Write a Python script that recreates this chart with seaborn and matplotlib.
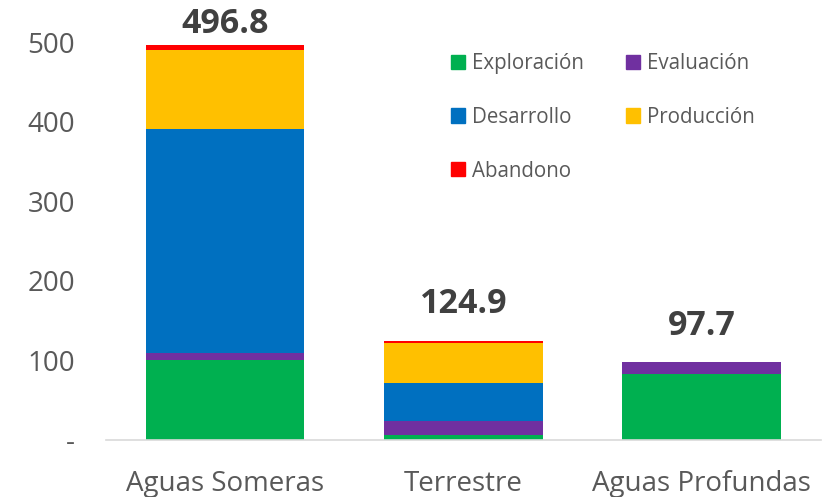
import numpy as np
import pandas as pd
import matplotlib
matplotlib.use("Agg")
import matplotlib.pyplot as plt
import seaborn as sns

# data
categories = ["Aguas Someras", "Terrestre", "Aguas Profundas"]
exploracion = [101.0, 6.0, 82.8]
evaluacion = [8.4, 17.9, 14.9]
desarrollo = [281.2, 47.7, 0.0]
produccion = [99.9, 49.9, 0.0]
abandono = [6.3, 3.4, 0.0]
totals = [496.8, 124.9, 97.7]

series = ["Exploración", "Evaluación", "Desarrollo", "Producción", "Abandono"]
colors = ["#00B050", "#7030A0", "#0070C0", "#FFC000", "#FF0000"]

sns.set_style("white")
plt.rcParams["font.family"] = ["Open Sans", "DejaVu Sans"]

df = pd.DataFrame({"categoria": categories,
                   "Exploración": exploracion, "Evaluación": evaluacion,
                   "Desarrollo": desarrollo, "Producción": produccion,
                   "Abandono": abandono})

# cumulative heights so each layer can be drawn over the one above
cum = df[series].cumsum(axis=1)

fig, ax = plt.subplots(figsize=(8.25, 4.97), dpi=100)
fig.subplots_adjust(left=0.128, right=0.995, top=0.96, bottom=0.115)

handles = {}
for name, col in reversed(list(zip(series, colors))):
    sns.barplot(x=df["categoria"], y=cum[name], color=col, width=0.665,
                ax=ax, linewidth=0, saturation=1)
    handles[name] = plt.Rectangle((0, 0), 1, 1, color=col)

# total labels (first one sits closer, it runs into the top of the chart)
label_pad = [8.5, 19.5, 19.5]
for i, t in enumerate(totals):
    ax.annotate(f"{t:.1f}", (i, t), xytext=(0, label_pad[i]),
                textcoords="offset points", ha="center", va="baseline",
                fontsize=24.5, fontweight="bold", color="#404040",
                annotation_clip=False)

ax.set_ylim(0, 528)
ax.set_yticks([0, 100, 200, 300, 400, 500])
ax.set_yticklabels(["-", "100", "200", "300", "400", "500"])
ax.set_xlabel("")
ax.set_ylabel("")
ax.tick_params(axis="both", labelsize=20, colors="#595959", length=0)
ax.tick_params(axis="y", pad=22)
ax.tick_params(axis="x", pad=22)
for s in ["top", "right", "left"]:
    ax.spines[s].set_visible(False)
ax.spines["bottom"].set_color("#D9D9D9")
ax.spines["bottom"].set_linewidth(1.2)

order = ["Exploración", "Desarrollo", "Abandono", "Evaluación", "Producción"]
leg = ax.legend([handles[n] for n in order], order, ncol=2, frameon=False,
                loc="upper left", bbox_to_anchor=(0.524, 0.931),
                bbox_transform=fig.transFigure,
                fontsize=14.8, handlelength=0.68, handleheight=0.68,
                handletextpad=0.34, columnspacing=2.05, labelspacing=1.6,
                labelcolor="#595959")

fig.savefig("out.png", dpi=100)
